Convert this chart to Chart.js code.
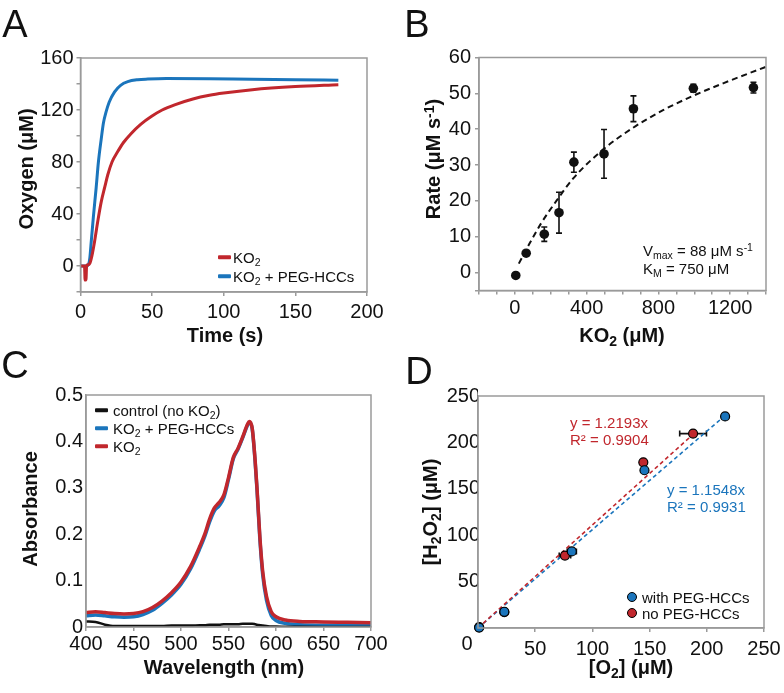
<!DOCTYPE html>
<html>
<head>
<meta charset="utf-8">
<script src="https://cdn.jsdelivr.net/npm/chart.js@4.4.1/dist/chart.umd.min.js"></script>
<style>
  body { margin:0; background:#fff; width:784px; height:693px; position:relative; overflow:hidden; font-family:"Liberation Sans", Arial, sans-serif; }
  canvas { position:absolute; }
  .t { position:absolute; line-height:1; white-space:nowrap; color:#111; }
  .c { transform:translate(-50%,-50%); }
  .r { transform:translate(-50%,-50%) rotate(-90deg); }
  .ax { font-size:20px; font-weight:bold; }
  .lt { font-size:38px; }
  .lg { font-size:15px; transform:translateY(-50%); }
  sub, sup { font-size:0.7em; line-height:0; position:relative; vertical-align:baseline; }
  sub { top:0.3em; }
  sup { top:-0.45em; }
  .sw { position:absolute; width:13px; height:3.5px; border-radius:1px; transform:translateY(-50%); }
  .dot { position:absolute; width:8px; height:8px; border-radius:50%; border:1px solid #000; transform:translate(-50%,-50%); }
</style>
</head>
<body>
<canvas id="chartA" width="392" height="330" style="left:0;top:0"></canvas>
<canvas id="chartB" width="392" height="330" style="left:392px;top:0"></canvas>
<canvas id="chartC" width="392" height="363" style="left:0;top:330px"></canvas>
<canvas id="chartD" width="392" height="363" style="left:392px;top:330px"></canvas>

<div class="t lt c" style="left:15px;top:24px">A</div>
<div class="t lt c" style="left:417px;top:24px">B</div>
<div class="t lt c" style="left:15px;top:365px">C</div>
<div class="t lt c" style="left:419px;top:371px">D</div>

<div class="t ax c" style="left:225px;top:335px">Time (s)</div>
<div class="t ax r" style="left:26px;top:169px">Oxygen (μM)</div>
<div class="t ax c" style="left:622px;top:335px">KO<sub>2</sub> (μM)</div>
<div class="t ax r" style="left:433px;top:159px">Rate (μM s<sup>-1</sup>)</div>
<div class="t ax c" style="left:224px;top:667px">Wavelength (nm)</div>
<div class="t ax r" style="left:30px;top:509px">Absorbance</div>
<div class="t ax c" style="left:631px;top:667px">[O<sub>2</sub>] (μM)</div>
<div class="t ax r" style="left:430px;top:512px">[H<sub>2</sub>O<sub>2</sub>] (μM)</div>

<!-- legend A -->
<div class="sw" style="left:218px;top:257px;background:#c1272d"></div>
<div class="t lg" style="left:233px;top:257px">KO<sub>2</sub></div>
<div class="sw" style="left:218px;top:276px;background:#1b75bc"></div>
<div class="t lg" style="left:233px;top:276px">KO<sub>2</sub> + PEG-HCCs</div>

<!-- annotation B -->
<div class="t lg" style="left:643px;top:250px">V<sub>max</sub> = 88 μM s<sup>-1</sup></div>
<div class="t lg" style="left:643px;top:268px">K<sub>M</sub> = 750 μM</div>

<!-- legend C -->
<div class="sw" style="left:95px;top:410px;background:#111"></div>
<div class="t lg" style="left:113px;top:410px">control (no KO<sub>2</sub>)</div>
<div class="sw" style="left:95px;top:428px;background:#1b75bc"></div>
<div class="t lg" style="left:113px;top:428px">KO<sub>2</sub> + PEG-HCCs</div>
<div class="sw" style="left:95px;top:446px;background:#c1272d"></div>
<div class="t lg" style="left:113px;top:446px">KO<sub>2</sub></div>

<!-- D texts -->
<div class="t c" style="left:467px;top:643px;font-size:20px">0</div>
<div class="t lg" style="left:570px;top:422px;color:#c1272d">y = 1.2193x</div>
<div class="t lg" style="left:570px;top:439px;color:#c1272d">R² = 0.9904</div>
<div class="t lg" style="left:667px;top:489px;color:#1b75bc">y = 1.1548x</div>
<div class="t lg" style="left:667px;top:506px;color:#1b75bc">R² = 0.9931</div>
<div class="dot" style="left:632px;top:597px;background:#1b75bc"></div>
<div class="t lg" style="left:642px;top:597px">with PEG-HCCs</div>
<div class="dot" style="left:632px;top:613px;background:#c1272d"></div>
<div class="t lg" style="left:642px;top:613px">no PEG-HCCs</div>

<script>
const RED = '#c1272d', BLUE = '#1b75bc', GRAY = '#9a9a9a';

// A: oxygen vs time
const aRedT = [0, 2.8, 3.2, 3.8, 4.3, 5.5, 6.5, 8, 9.8, 12, 14.5, 17, 19, 22, 26, 30, 35.4, 42, 49.4, 57, 65.7, 78.5, 90, 100, 120, 150, 180];
const aRedY = [0, 0, -10.8, -10.8, 0.5, 1, 2, 8, 18.7, 34, 49.5, 61, 70, 80, 88, 95, 102, 109, 115, 120, 124, 128.5, 131.3, 133, 135.6, 138, 139.5];
const aBlueT = [0, 4, 5.5, 6.5, 7.5, 9, 10.9, 12.5, 14.5, 16, 17.9, 20, 23.8, 28, 33, 40, 47, 60, 90, 120, 150, 180];
const aBlueY = [0, 0, 1, 6, 18.7, 38, 59.8, 80, 98, 110, 118.7, 126, 134, 139, 141.8, 143.3, 143.8, 144.2, 144, 143.6, 143.3, 142.9];
const aXTicks = [0, 50, 100, 150, 200];
const aYTicks = [-20, 0, 20, 40, 60, 80, 100, 120, 140, 160];

// B: rate vs KO2
const bX = [5, 63, 164, 246, 329, 497, 661, 995, 1330];
const bY = [-0.8, 5.4, 10.7, 16.7, 30.8, 33.1, 45.7, 51.4, 51.6];
const bErr = [0, 0, 2.0, 5.7, 2.8, 6.8, 3.6, 1.1, 1.5];
const bFitX = [22, 73, 147, 240, 324, 491, 659, 826, 993, 1161, 1400];
const bFitY = [2.5, 7.3, 13.8, 20.6, 26.2, 34.3, 40.4, 45.3, 49.3, 52.8, 57.4];
const bXTicks = [-200, -100, 0, 100, 200, 300, 400, 500, 600, 700, 800, 900, 1000, 1100, 1200, 1300, 1400];
const bYTicks = [-5, 0, 10, 20, 30, 40, 50, 60];

// C: absorbance spectra
const cX = [400, 410, 420, 430, 440, 450, 460, 470, 480, 490, 500, 510, 520, 525, 530, 535, 540, 545, 550, 555,
            560, 565, 570, 572, 575, 578, 580, 583, 586, 590, 595, 600, 610, 625, 650, 675, 700];
const cRed = [0.031, 0.033, 0.031, 0.029, 0.028, 0.029, 0.033, 0.042, 0.056, 0.074, 0.097, 0.130, 0.175, 0.200, 0.232, 0.256, 0.268, 0.284, 0.322, 0.365,
              0.385, 0.410, 0.437, 0.443, 0.428, 0.360, 0.300, 0.195, 0.120, 0.066, 0.033, 0.022, 0.015, 0.012, 0.011, 0.010, 0.009];
const cBlue = [0.024, 0.026, 0.024, 0.022, 0.021, 0.022, 0.027, 0.036, 0.051, 0.069, 0.092, 0.125, 0.170, 0.195, 0.226, 0.250, 0.261, 0.278, 0.318, 0.362,
               0.383, 0.408, 0.435, 0.441, 0.426, 0.357, 0.296, 0.190, 0.113, 0.058, 0.025, 0.014, 0.008, 0.005, 0.004, 0.004, 0.004];
const cCtrl = [0.012, 0.011, 0.005, 0.002, 0.002, 0.002, 0.002, 0.002, 0.002, 0.003, 0.003, 0.003, 0.004, 0.004, 0.005, 0.005, 0.005, 0.006, 0.006, 0.006,
               0.006, 0.007, 0.007, 0.007, 0.007, 0.006, 0.005, 0.004, 0.003, 0.002, 0.001, 0.001, 0.0005, 0.0003, 0.0002, 0.0001, 0];
const cXTicks = [400, 450, 500, 550, 600, 650, 700];
const cYTicks = [0, 0.1, 0.2, 0.3, 0.4, 0.5];

// D: H2O2 vs O2
const dWithX = [1, 23, 82, 145.5, 216];
const dWithY = [0.5, 17.5, 82.5, 170, 228];
const dWithErrX = [0, 1, 4, 1, 0];
const dNoX = [1, 23, 76, 144.5, 188];
const dNoY = [1, 17, 78, 178.5, 209.5];
const dNoErrX = [0, 0, 5, 1, 11.7];
const dWithFitX = [0, 216], dWithFitY = [0, 229];
const dNoFitX = [0, 191], dNoFitY = [0, 212];
const dTicks = [0, 50, 100, 150, 200, 250];

const xy = (xs, ys) => xs.map((x, i) => ({ x, y: ys[i] }));

// grey box round the plot area
const frame = {
  id: 'frame',
  afterDraw(c) {
    const a = c.chartArea, ctx = c.ctx;
    ctx.save();
    ctx.strokeStyle = GRAY;
    ctx.lineWidth = 1.5;
    ctx.strokeRect(a.left, a.top, a.right - a.left, a.bottom - a.top);
    ctx.restore();
  }
};

// error bars, drawn through the chart scales
const errorBars = {
  id: 'errorBars',
  beforeDatasetsDraw(c) {
    const ctx = c.ctx, xs = c.scales.x, ys = c.scales.y;
    ctx.save();
    ctx.strokeStyle = '#111';
    ctx.lineWidth = 1.6;
    c.data.datasets.forEach(ds => {
      ds.data.forEach((p, i) => {
        const px = xs.getPixelForValue(p.x), py = ys.getPixelForValue(p.y);
        if (ds.errY && ds.errY[i]) {
          const t = ys.getPixelForValue(p.y + ds.errY[i]), b = ys.getPixelForValue(p.y - ds.errY[i]);
          ctx.beginPath();
          ctx.moveTo(px, t); ctx.lineTo(px, b);
          ctx.moveTo(px - 3, t); ctx.lineTo(px + 3, t);
          ctx.moveTo(px - 3, b); ctx.lineTo(px + 3, b);
          ctx.stroke();
        }
        if (ds.errX && ds.errX[i] > 2) {
          const l = xs.getPixelForValue(p.x - ds.errX[i]), r = xs.getPixelForValue(p.x + ds.errX[i]);
          ctx.beginPath();
          ctx.moveTo(l, py); ctx.lineTo(r, py);
          ctx.moveTo(l, py - 3); ctx.lineTo(l, py + 3);
          ctx.moveTo(r, py - 3); ctx.lineTo(r, py + 3);
          ctx.stroke();
        }
      });
    });
    ctx.restore();
  }
};

function axis(tickVals, show, o = {}) {
  return {
    type: 'linear', min: tickVals[0], max: tickVals[tickVals.length - 1],
    afterBuildTicks: s => { s.ticks = tickVals.map(value => ({ value })); },
    ticks: {
      color: '#111', autoSkip: false, maxRotation: 0,
      font: { size: 20, family: 'Liberation Sans' }, padding: o.pad ?? 3,
      callback: v => show(v) ? String(Math.round(v * 100) / 100) : ''
    },
    grid: { drawOnChartArea: false, drawTicks: o.tl !== 0, tickLength: o.tl ?? 4, color: GRAY, lineWidth: 1.5 },
    border: { color: GRAY, width: 1.5 },
    afterFit: o.fit
  };
}

// fixes the plot area inside a canvas
function box(L, T, R, B, W, H) {
  return {
    padding: { top: T, right: W - R, left: 0, bottom: 0 },
    xFit: s => { s.height = H - B; s.paddingLeft = 0; s.paddingRight = 0; },
    yFit: s => { s.width = L; s.paddingTop = 0; s.paddingBottom = 0; }
  };
}

function make(id, bx, datasets, xAx, yAx) {
  return new Chart(document.getElementById(id), {
    type: 'scatter',
    data: { datasets },
    options: {
      responsive: false, animation: false, devicePixelRatio: 1, events: [],
      layout: { padding: bx.padding },
      plugins: { legend: { display: false }, tooltip: { enabled: false } },
      scales: { x: xAx, y: yAx }
    },
    plugins: [frame, errorBars]
  });
}

const curve = (data, color, w) => ({
  data, showLine: true, borderColor: color, borderWidth: w, pointRadius: 0,
  cubicInterpolationMode: 'monotone', fill: false
});

// A
const bxA = box(80.5, 58, 367, 292, 392, 330);
make('chartA', bxA,
  [curve(xy(aRedT, aRedY), RED, 3), curve(xy(aBlueT, aBlueY), BLUE, 3)],
  axis(aXTicks, () => true, { pad: 4, fit: bxA.xFit }),
  axis(aYTicks, v => v >= 0 && v % 40 === 0, { pad: 3, fit: bxA.yFit }));

// B
const bxB = box(87, 57.5, 374, 290.5, 392, 330);
make('chartB', bxB,
  [
    { data: xy(bX, bY), errY: bErr, pointRadius: 4.8, backgroundColor: '#111', borderColor: '#111', borderWidth: 0 },
    Object.assign(curve(xy(bFitX, bFitY), '#111', 2), { borderDash: [6, 4] })
  ],
  axis(bXTicks, v => v >= 0 && v % 400 === 0, { pad: 2, fit: bxB.xFit }),
  axis(bYTicks, v => v % 10 === 0, { pad: 4, fit: bxB.yFit }));

// C
const bxC = box(86, 65, 371, 297, 392, 363);
make('chartC', bxC,
  [curve(xy(cX, cCtrl), '#111', 2.5), curve(xy(cX, cRed), RED, 3.5), curve(xy(cX, cBlue), BLUE, 3.5)],
  axis(cXTicks, () => true, { pad: 1, fit: bxC.xFit }),
  axis(cYTicks, () => true, { pad: 3, tl: 0, fit: bxC.yFit }));

// D
const bxD = box(86, 66, 372, 298, 392, 363);
const pts = (data, color, err) => ({
  data, errX: err, pointRadius: 4.5, backgroundColor: color, borderColor: '#000', borderWidth: 1.2, clip: false
});
const dash = (data, color) => ({
  data, showLine: true, borderColor: color, borderWidth: 1.6, borderDash: [4, 3], pointRadius: 0, fill: false
});
make('chartD', bxD,
  [pts(xy(dWithX, dWithY), BLUE, dWithErrX), pts(xy(dNoX, dNoY), RED, dNoErrX),
   dash(xy(dNoFitX, dNoFitY), RED), dash(xy(dWithFitX, dWithFitY), BLUE)],
  axis(dTicks, v => v > 0, { pad: 5, fit: bxD.xFit }),
  axis(dTicks, v => v > 0, { pad: -2, tl: 0, fit: bxD.yFit }));
</script>
</body>
</html>
